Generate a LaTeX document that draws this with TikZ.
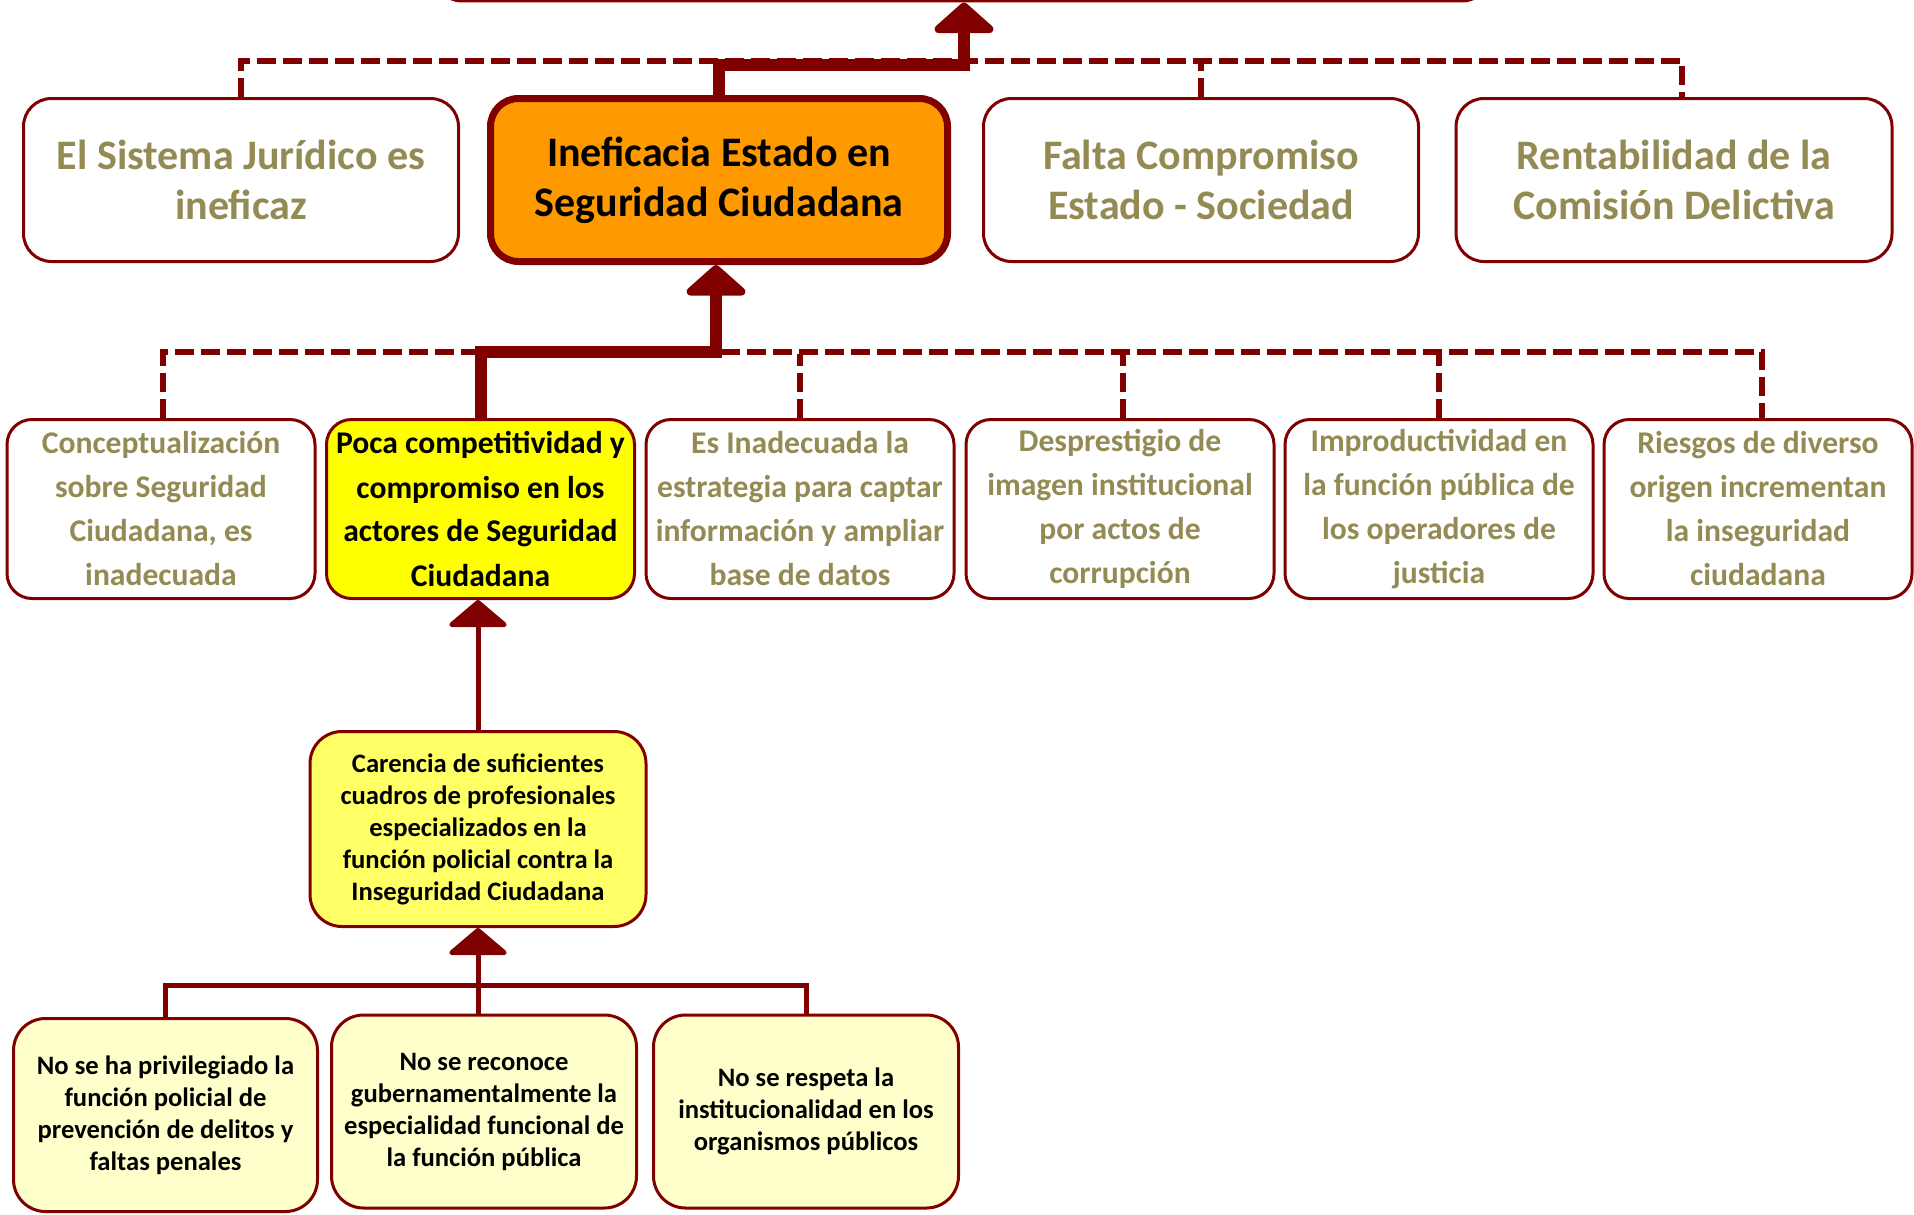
\documentclass[tikz,border=0pt]{standalone}
\usepackage{fontspec}
\setmainfont{Carlito}
\usetikzlibrary{arrows.meta,calc}
\definecolor{mroon}{HTML}{800000}
\definecolor{olivetxt}{HTML}{948A54}
\definecolor{orangefill}{HTML}{FF9900}
\definecolor{yellowfill}{HTML}{FFFF00}
\definecolor{lightyellow}{HTML}{FFFF66}
\definecolor{paleyellow}{HTML}{FFFFCC}
\tikzset{
  basebox/.style={draw=mroon, line width=3pt, align=center, inner sep=0pt},
  rowone/.style={basebox, rounded corners=28pt, minimum height=163pt,
    font=\bfseries\fontsize{42}{50}\selectfont},
  rowtwo/.style={basebox, rounded corners=25pt, minimum width=308pt, minimum height=179pt,
    font=\bfseries\fontsize{31.6}{44}\selectfont},
  lowbox/.style={basebox, rounded corners=32pt, minimum width=305pt, minimum height=193pt,
    fill=paleyellow, font=\bfseries\fontsize{26.6}{32}\selectfont},
  plainbox/.style={fill=white, text=olivetxt},
  dashline/.style={draw=mroon, line width=6pt, dash pattern=on 19pt off 7pt},
  thickline/.style={draw=mroon, line width=12pt},
  thickarrow/.style={thickline, -{Triangle[width=70pt,length=32pt,round]}},
  thinline/.style={draw=mroon, line width=5pt},
  thinarrow/.style={thinline, -{Triangle[width=65pt,length=28pt,round]}}
}
\begin{document}
\begin{tikzpicture}[x=1pt,y=-1pt]
\useasboundingbox (0,0) rectangle (1914,1215);
\clip (0,0) rectangle (1914,1215);
\fill[white] (0,0) rectangle (1914,1215);

% top (cut-off) box
\node[draw=mroon, line width=4pt, rounded corners=28pt, minimum width=1056pt,
  minimum height=300pt, inner sep=0pt, fill=white] (top) at (962,-149.5) {};

% row one
\node[rowone, plainbox, minimum width=435pt] (A) at (241,180) {El Sistema Jurídico es\\ineficaz};
\node[rowone, line width=7pt, fill=orangefill, text=black, minimum width=457pt] (B) at (719,180) {Ineficacia Estado en\\Seguridad Ciudadana};
\node[rowone, plainbox, minimum width=435pt] (C) at (1201,180) {Falta Compromiso\\Estado - Sociedad};
\node[rowone, plainbox, minimum width=436pt] (D) at (1674,180) {Rentabilidad de la\\Comisión Delictiva};

% row two
\node[rowtwo, plainbox] (r1) at (161,509) {Conceptualización\\sobre Seguridad\\Ciudadana, es\\inadecuada};
\node[rowtwo, fill=yellowfill, text=black] (r2) at (480.5,509) {Poca competitividad y\\compromiso en los\\actores de Seguridad\\Ciudadana};
\node[rowtwo, plainbox] (r3) at (800,509) {Es Inadecuada la\\estrategia para captar\\información y ampliar\\base de datos};
\node[rowtwo, plainbox] (r4) at (1120,509) {Desprestigio de\\imagen institucional\\por actos de\\corrupción};
\node[rowtwo, plainbox] (r5) at (1439,509) {Improductividad en\\la función pública de\\los operadores de\\justicia};
\node[rowtwo, plainbox] (r6) at (1758,509) {Riesgos de diverso\\origen incrementan\\la inseguridad\\ciudadana};

% carencia
\node[basebox, rounded corners=32pt, minimum width=336pt, minimum height=195pt, fill=lightyellow,
  font=\bfseries\fontsize{26.6}{32}\selectfont] (car) at (478,829)
  {Carencia de suficientes\\cuadros de profesionales\\especializados en la\\función policial contra la\\Inseguridad Ciudadana};

% bottom row
\node[lowbox, minimum width=304pt] (b1) at (165.5,1115) {No se ha privilegiado la\\función policial de\\prevención de delitos y\\faltas penales};
\node[lowbox] (b2) at (484,1111.5) {No se reconoce\\gubernamentalmente la\\especialidad funcional de\\la función pública};
\node[lowbox] (b3) at (806,1111.5) {No se respeta la\\institucionalidad en los\\organismos públicos};

% junction coordinates
\coordinate (j1) at (964,65);
\coordinate (j2) at (716,352);
\coordinate (j3) at (478,985);
\coordinate (dD) at ($(D.north)+(8,0)$);
\coordinate (d1) at ($(r1.north)+(2,0)$);
\coordinate (d4) at ($(r4.north)+(3,0)$);
\coordinate (d6) at ($(r6.north)+(4,0)$);

% top connectors
\draw[dashline] (A.north) -- ++(0,-36) -| (dD);
\draw[dashline] (C.north) -- (C.north |- 0,62.5);
\draw[thickarrow] (B.north) |- (j1) -- (top.south -| j1);

% second level connectors
\draw[dashline] (d1) -- ++(0,-66) -| (d6);
\draw[dashline] (r3.north) -- (r3.north |- 0,353.5);
\draw[dashline] (d4) -- (d4 |- 0,353.5);
\draw[dashline] (r5.north) -- (r5.north |- 0,353.5);
\draw[thickarrow] (r2.north) |- (j2) -- (B.south -| j2);

% lower connectors
\draw[thinarrow] (car.north) -- (r2.south -| car.north);
\draw[thinline] (b1.north) |- (j3) -| (b3.north);
\draw[thinarrow] (b2.north -| car.south) -- (car.south);
\end{tikzpicture}
\end{document}
